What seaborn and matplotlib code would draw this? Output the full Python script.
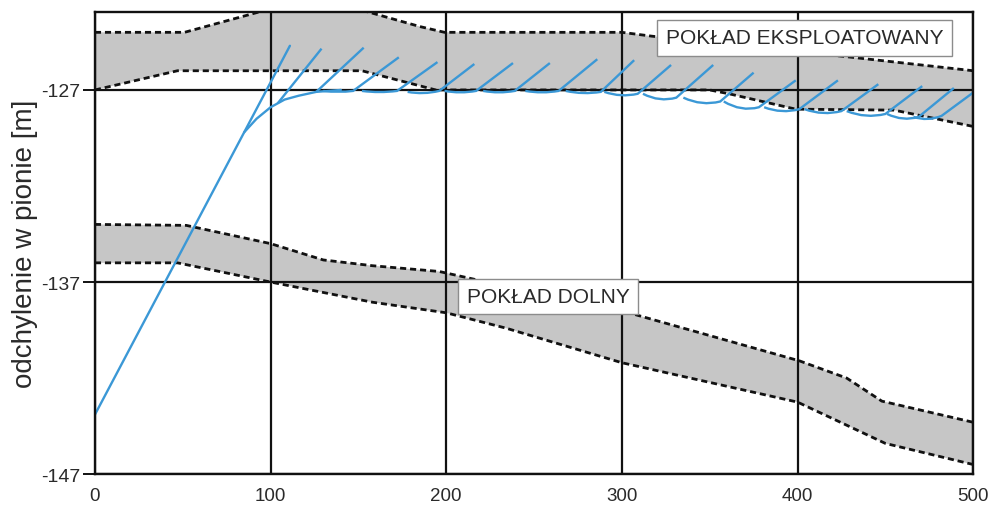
import matplotlib
matplotlib.use("Agg")
import matplotlib.pyplot as plt
import seaborn as sns
from matplotlib.path import Path
from matplotlib.patches import PathPatch

sns.set_theme(style="white")
plt.rcParams["font.family"] = ["Liberation Sans", "DejaVu Sans"]
plt.rcParams["axes.unicode_minus"] = False

# Exploited seam (upper band): roof and floor edges
upper_top_x = [0, 51, 95, 154, 185, 199, 300, 317, 431, 500]
upper_top_y = [-124.0, -124.0, -122.9, -122.9, -123.7, -124.0, -124.0, -124.2, -125.3, -126.0]
upper_bot_x = [0, 47, 152, 194, 350, 361, 399, 455, 500]
upper_bot_y = [-127.0, -126.0, -126.0, -127.0, -127.0, -127.2, -128.0, -128.05, -128.9]

# Lower seam (lower band)
lower_top_x = [0, 52, 100, 130, 158, 196, 287, 300, 401, 428, 448, 500]
lower_top_y = [-134.0, -134.05, -135.0, -135.85, -136.15, -136.45, -138.3, -138.5, -141.1, -142.0, -143.2, -144.3]
lower_bot_x = [0, 47, 100, 158, 200, 234, 300, 400, 450, 500]
lower_bot_y = [-136.0, -136.0, -137.0, -138.05, -138.6, -139.4, -141.2, -143.25, -145.4, -146.5]

# Subsidence profile: steep limb and the branch that levels off below the seam roof
limb_x = [0, 111]
limb_y = [-143.9, -124.7]
branch_x = [85, 92, 100, 108, 116, 126, 140]
branch_y = [-129.2, -128.5, -127.9, -127.5, -127.3, -127.1, -127.0]

# Successive profile strokes: tip, foot on the base line, and tail end
stroke_tip_x = [129, 153, 173, 195, 216, 238, 259, 286, 307, 328, 352, 375, 399, 423, 446, 471, 489, 505]
stroke_tip_y = [-124.85, -124.8, -125.3, -125.55, -125.65, -125.6, -125.6, -125.4, -125.45,
                -125.7, -125.7, -126.1, -126.5, -126.5, -126.7, -126.8, -126.9, -126.8]
stroke_foot_x = [104, 126, 147, 172, 196, 217, 239, 264, 288, 309, 331, 356, 378, 401, 425, 450, 469, 482]
stroke_foot_y = [-127.7, -127.1, -127.05, -127.05, -127.05, -127.05, -127.05, -127.05, -127.1,
                 -127.2, -127.4, -127.6, -127.9, -128.0, -128.1, -128.25, -128.4, -128.35]
stroke_tail_x = [104, 126, 130, 152, 178, 199, 221, 245, 268, 290, 312, 335, 358, 381, 404, 428, 451, 466]
stroke_tail_y = [-127.7, -127.1, -127.05, -127.05, -127.1, -127.05, -127.05, -127.05, -127.05,
                 -127.1, -127.2, -127.4, -127.6, -127.9, -128.0, -128.1, -128.25, -128.4]
# sag of each stroke's tail below its foot
stroke_sag = [0, 0, 0.1, 0.12, 0.15, 0.15, 0.15, 0.15, 0.15, 0.2, 0.25, 0.25, 0.25, 0.25, 0.25, 0.25, 0.25, 0.25]

x_ticks = [0, 100, 200, 300, 400, 500]
y_ticks = [-147, -137, -127]

label_upper = "POKŁAD EKSPLOATOWANY"
label_lower = "POKŁAD DOLNY"
y_label = "odchylenie w pionie [m]"

seam_fill = "#c6c6c6"
ink = "#111111"
blue = "#3b98d6"
text_col = "#2a2a2a"
dashed = (0, (2.2, 1.4))

fig, ax = plt.subplots(figsize=(9.89, 5.06), dpi=100)
fig.subplots_adjust(left=0.096, right=0.984, bottom=0.061, top=0.974)

for tx, ty, bx, by in [(upper_top_x, upper_top_y, upper_bot_x, upper_bot_y),
                       (lower_top_x, lower_top_y, lower_bot_x, lower_bot_y)]:
    ax.fill(list(tx) + bx[::-1], list(ty) + by[::-1], color=seam_fill, lw=0, zorder=1)
    sns.lineplot(x=tx, y=ty, ax=ax, color=ink, lw=2.0, linestyle=dashed, zorder=3)
    sns.lineplot(x=bx, y=by, ax=ax, color=ink, lw=2.0, linestyle=dashed, zorder=3)

sns.lineplot(x=limb_x, y=limb_y, ax=ax, color=blue, lw=1.7, zorder=4)
sns.lineplot(x=branch_x, y=branch_y, ax=ax, color=blue, lw=1.7, zorder=4)

for tx, ty, fx, fy, lx, ly, sag in zip(stroke_tip_x, stroke_tip_y, stroke_foot_x, stroke_foot_y,
                                       stroke_tail_x, stroke_tail_y, stroke_sag):
    if lx == fx:
        verts, codes = [(fx, fy), (tx, ty)], [Path.MOVETO, Path.LINETO]
    else:
        ctrl = ((lx + fx) / 2, min(ly, fy) - sag)
        verts = [(lx, ly), ctrl, (fx, fy), (tx, ty)]
        codes = [Path.MOVETO, Path.CURVE3, Path.CURVE3, Path.LINETO]
    ax.add_patch(PathPatch(Path(verts, codes), fill=False, ec=blue, lw=1.7, zorder=4))

ax.set_xlim(0, 500)
ax.set_ylim(-147, -122.95)
ax.set_xticks(x_ticks)
ax.set_yticks(y_ticks)
ax.set_xticklabels([str(v) for v in x_ticks])
ax.set_yticklabels([str(v) for v in y_ticks])
ax.grid(True, color=ink, lw=1.6)
ax.set_axisbelow(False)
for s in ax.spines.values():
    s.set_color(ink)
    s.set_linewidth(1.7)
    s.set_zorder(5)
ax.tick_params(axis="y", left=True, length=9, width=1.4, color=ink, pad=1.5,
               labelsize=14, labelcolor=text_col)
ax.tick_params(axis="x", bottom=False, length=0, pad=9, labelsize=13.5, labelcolor=text_col)
ax.set_xlabel("")
ax.set_ylabel(y_label, fontsize=20, color=text_col, labelpad=2)

box = dict(boxstyle="square,pad=0.4", fc="white", ec="#8c8c8c", lw=1.0)
ax.text(404, -124.29, label_upper, fontsize=15, color=text_col, ha="center", va="center",
        bbox=box, zorder=6)
ax.text(258, -137.76, label_lower, fontsize=15, color=text_col, ha="center", va="center",
        bbox=box, zorder=6)

fig.savefig("out.png", dpi=100)
